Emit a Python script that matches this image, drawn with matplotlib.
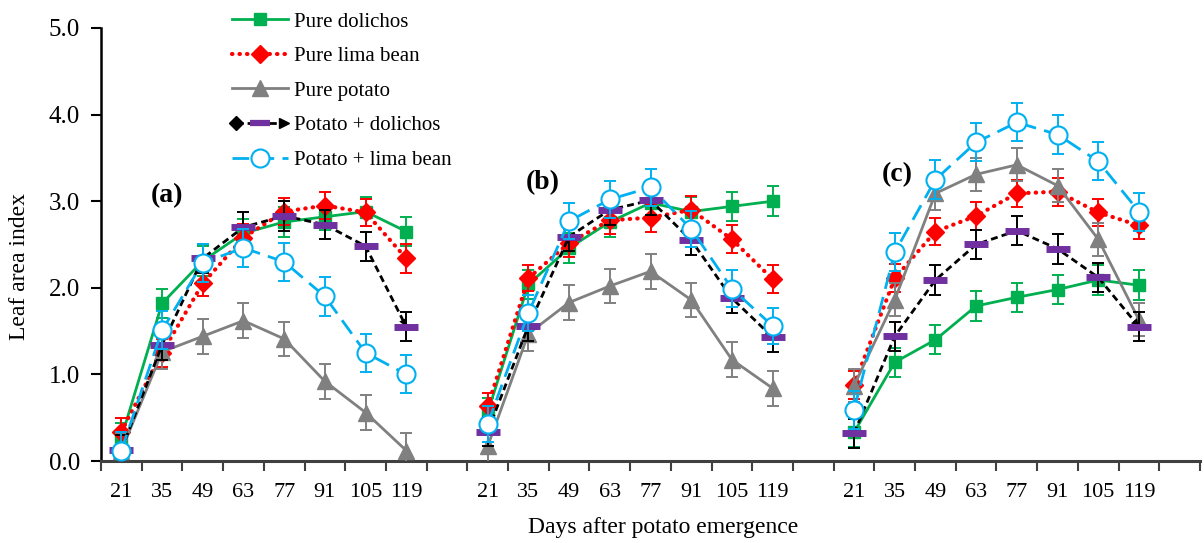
import matplotlib.pyplot as plt
import numpy as np
from matplotlib.lines import Line2D
from matplotlib.legend_handler import HandlerBase

plt.rcParams['font.family'] = ['Liberation Serif', 'DejaVu Serif']

# x categories (days) repeated for panels a, b, c
days = [21, 35, 49, 63, 77, 91, 105, 119]
panels = ['(a)', '(b)', '(c)']

# leaf area index, 8 values per panel (a, b, c)
pure_dolichos = [0.27, 1.82, 2.31, 2.63, 2.76, 2.82, 2.88, 2.65,
                 0.56, 2.04, 2.46, 2.76, 2.98, 2.88, 2.94, 3.00,
                 0.33, 1.14, 1.40, 1.79, 1.89, 1.98, 2.09, 2.03]
pure_lima = [0.34, 1.25, 2.05, 2.58, 2.88, 2.95, 2.87, 2.34,
             0.63, 2.11, 2.52, 2.78, 2.81, 2.90, 2.56, 2.10,
             0.88, 2.11, 2.65, 2.83, 3.09, 3.11, 2.87, 2.72]
pure_potato = [0.12, 1.26, 1.44, 1.62, 1.41, 0.92, 0.56, 0.12,
               0.17, 1.47, 1.83, 2.02, 2.19, 1.86, 1.17, 0.84,
               0.87, 1.86, 3.09, 3.31, 3.42, 3.18, 2.56, 1.63]
potato_dolichos = [0.13, 1.34, 2.34, 2.70, 2.83, 2.73, 2.48, 1.55,
                   0.34, 1.56, 2.59, 2.90, 3.01, 2.55, 1.88, 1.43,
                   0.32, 1.44, 2.09, 2.50, 2.66, 2.45, 2.12, 1.55]
potato_lima = [0.12, 1.51, 2.29, 2.46, 2.30, 1.90, 1.25, 1.00,
               0.43, 1.71, 2.77, 3.02, 3.16, 2.68, 1.99, 1.56,
               0.59, 2.41, 3.25, 3.68, 3.91, 3.77, 3.46, 2.88]

# error bar half-lengths
err_dolichos = [0.17, 0.17, 0.17, 0.17, 0.17, 0.15, 0.17, 0.17,
                0.17, 0.17, 0.17, 0.17, 0.17, 0.17, 0.17, 0.17,
                0.17, 0.17, 0.17, 0.17, 0.17, 0.17, 0.17, 0.17]
err_lima = [0.16, 0.16, 0.15, 0.16, 0.16, 0.16, 0.16, 0.17,
            0.15, 0.15, 0.16, 0.16, 0.16, 0.16, 0.16, 0.16,
            0.16, 0.16, 0.16, 0.16, 0.16, 0.16, 0.16, 0.16]
err_potato = [0.2, 0.2, 0.2, 0.2, 0.2, 0.2, 0.2, 0.2,
              0.2, 0.2, 0.2, 0.2, 0.2, 0.2, 0.2, 0.2,
              0.19, 0.19, 0.19, 0.19, 0.19, 0.19, 0.19, 0.19]
err_pd = [0.17, 0.17, 0.17, 0.17, 0.17, 0.17, 0.17, 0.17,
          0.17, 0.17, 0.17, 0.17, 0.17, 0.17, 0.17, 0.17,
          0.17, 0.17, 0.17, 0.17, 0.17, 0.17, 0.17, 0.17]
err_pl = [0.22, 0.22, 0.22, 0.22, 0.22, 0.22, 0.22, 0.22,
          0.21, 0.21, 0.21, 0.21, 0.21, 0.21, 0.21, 0.21,
          0.22, 0.22, 0.22, 0.22, 0.22, 0.22, 0.22, 0.22]

green = '#00B050'
red = '#FF0000'
grey = '#808080'
purple = '#7030A0'
blue = '#00B0F0'

series = [
    ('Pure dolichos', pure_dolichos, err_dolichos,
     dict(color=green, ls='-', lw=2, marker='s', ms=9, mfc=green, mec=green), green),
    ('Pure lima bean', pure_lima, err_lima,
     dict(color=red, ls=(0, (0.1, 1.7)), lw=3, dash_capstyle='round',
          marker='D', ms=9, mfc=red, mec=red), red),
    ('Pure potato', pure_potato, err_potato,
     dict(color=grey, ls='-', lw=2, marker='^', ms=11, mfc=grey, mec=grey), grey),
    ('Potato + dolichos', potato_dolichos, err_pd,
     dict(color='black', ls=(0, (2.5, 1.5)), lw=2, marker='_', ms=17, mew=5,
          mec=purple), 'black'),
    ('Potato + lima bean', potato_lima, err_pl,
     dict(color=blue, ls=(0, (6, 3)), lw=2, marker='o', ms=13, mfc='white',
          mec=blue, mew=1.5), blue),
]

fig = plt.figure(figsize=(12.04, 5.43), dpi=100)
ax = fig.add_axes([101 / 1204, 82 / 543, 1099 / 1204, 433 / 543])

n_cat = 27
for k, (name, vals, err, style, ecol) in enumerate(series):
    vals = np.array(vals)
    err = np.array(err)
    for g in range(3):
        xs = g * 9 + np.arange(8) + 0.5
        ys = vals[g * 8:(g + 1) * 8]
        es = err[g * 8:(g + 1) * 8]
        ax.errorbar(xs, ys, yerr=es, fmt='none', ecolor=ecol, elinewidth=1.4,
                    capsize=4, capthick=1.4, zorder=2 + k)
        if name == 'Potato + dolichos':
            # arrow head at the end of each dashed segment
            tip = (xs[-1], ys[-1])
            back = (xs[-1] + 0.2 * (xs[-2] - xs[-1]), ys[-1] + 0.2 * (ys[-2] - ys[-1]))
            ax.annotate('', xy=tip, xytext=back, zorder=2 + k,
                        arrowprops=dict(arrowstyle='-|>', color='black', lw=0,
                                        mutation_scale=14, shrinkA=0, shrinkB=0))
        ax.plot(xs, ys, zorder=2.5 + k, **style)

ax.set_xlim(0, n_cat)
ax.set_ylim(0, 5)
ax.set_yticks(np.arange(0, 5.01, 1.0))
ax.set_yticklabels(['%.1f' % v for v in np.arange(0, 5.01, 1.0)], fontsize=18)
ax.set_xticks(np.arange(0, n_cat + 1))
ax.set_xticklabels([])
minor = [g * 9 + i + 0.5 for g in range(3) for i in range(8)]
ax.set_xticks(minor, minor=True)
ax.set_xticklabels([str(d) for g in range(3) for d in days], minor=True, fontsize=16)
ax.tick_params(axis='x', which='major', direction='out', length=7, width=1.5, color='#404040')
ax.tick_params(axis='x', which='minor', length=0, pad=16)
ax.tick_params(axis='y', direction='out', length=7, width=1.5, pad=8)
for s in ['top', 'right']:
    ax.spines[s].set_visible(False)
ax.spines['left'].set_linewidth(1.8)
ax.spines['bottom'].set_linewidth(2.2)
ax.spines['bottom'].set_color('#404040')

# panel letters
ax.text(1.62, 3.07, panels[0], fontsize=20, fontweight='bold', ha='center', va='center')
ax.text(10.86, 3.22, panels[1], fontsize=20, fontweight='bold', ha='center', va='center')
ax.text(19.55, 3.31, panels[2], fontsize=20, fontweight='bold', ha='center', va='center')

fig.text(663 / 1204, 1 - 528 / 543, 'Days after potato emergence', fontsize=17,
         ha='center', va='center')
fig.text(20 / 1204, 1 - 266 / 543, 'Leaf area index', fontsize=17, rotation=90,
         ha='center', va='center')


class PDHandle:
    pass


class HandlerPD(HandlerBase):
    def create_artists(self, legend, orig_handle, xdescent, ydescent, width,
                       height, fontsize, trans):
        y = (height - ydescent) / 2
        x0, x1 = -xdescent + 3, width - xdescent - 3
        line = Line2D([x0, x1], [y, y], color='black', ls=(0, (2.5, 1.5)), lw=2)
        start = Line2D([x0], [y], marker='D', ms=7, color='black', ls='none')
        mid = Line2D([(x0 + x1) / 2], [y], marker='_', ms=14, mew=4.5,
                     color=purple, ls='none')
        end = Line2D([x1], [y], marker='>', ms=7, color='black', ls='none')
        out = [line, start, mid, end]
        for a in out:
            a.set_transform(trans)
        return out


handles = []
for name, vals, err, style, ecol in series[:3]:
    handles.append(Line2D([], [], **style))
handles.append(PDHandle())
handles.append(Line2D([], [], **series[4][3]))
labels = [s[0] for s in series]

ax.legend(handles, labels, handler_map={PDHandle: HandlerPD()},
          loc='upper left', bbox_to_anchor=(232 / 1204, 0.978),
          bbox_transform=fig.transFigure, frameon=False, fontsize=15,
          handlelength=2.7, handletextpad=0.3, labelspacing=0.72,
          borderpad=0, borderaxespad=0)

plt.savefig('out.png', dpi=100, facecolor='white')
